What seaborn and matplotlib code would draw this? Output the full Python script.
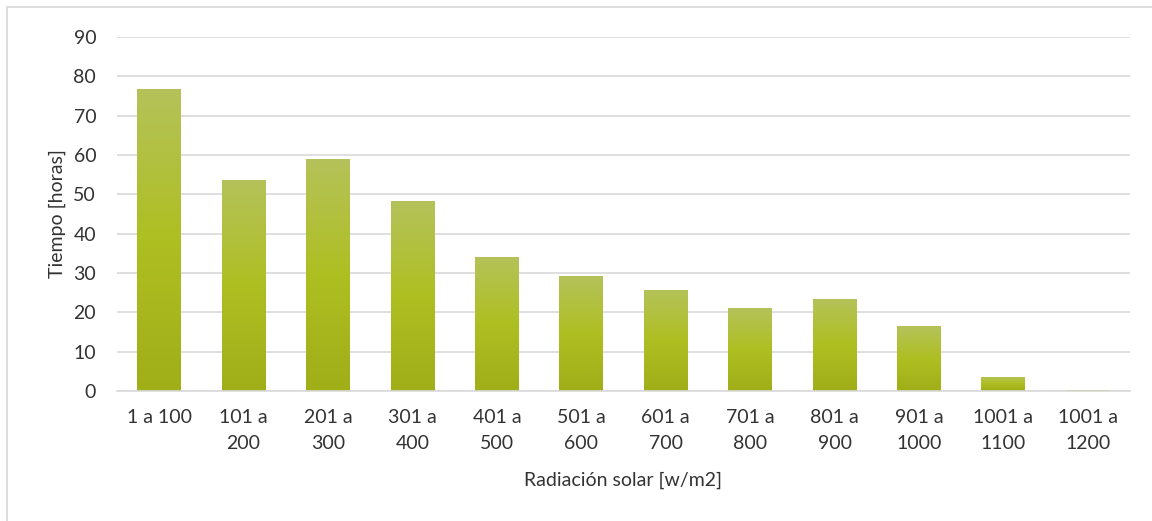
import matplotlib
matplotlib.use("Agg")
import matplotlib.pyplot as plt
import seaborn as sns
import numpy as np
import pandas as pd
from matplotlib.colors import LinearSegmentedColormap
from matplotlib.lines import Line2D

categories = ["1 a 100", "101 a\n200", "201 a\n300", "301 a\n400", "401 a\n500",
              "501 a\n600", "601 a\n700", "701 a\n800", "801 a\n900", "901 a\n1000",
              "1001 a\n1100", "1001 a\n1200"]
hours = [76.8, 53.6, 59.0, 48.3, 34.1, 29.2, 25.7, 21.1, 23.4, 16.5, 3.6, 0.3]
yticks = [0, 10, 20, 30, 40, 50, 60, 70, 80, 90]

sns.set_theme(style="white")
plt.rcParams['font.family'] = ['Lato', 'DejaVu Sans']
text_color = '#333333'
fs = 14

df = pd.DataFrame({"cat": categories, "val": hours})

fig = plt.figure(figsize=(11.52, 5.21), dpi=100)
ax = fig.add_axes([117/1152, 1 - 391/521, (1130-117)/1152, (391-37)/521])

sns.barplot(data=df, x="cat", y="val", ax=ax, color="#aebf22", width=0.52,
            saturation=1, zorder=2)

ax.set_ylim(0, 90)
ax.set_xlim(-0.5, len(categories) - 0.5)
ax.set_yticks(yticks)
ax.yaxis.grid(True, color='#d9d9d9', linewidth=1.2, zorder=0)
ax.set_axisbelow(True)
for s in ['top', 'right', 'left']:
    ax.spines[s].set_visible(False)
ax.spines['bottom'].set_color('#d9d9d9')
ax.spines['bottom'].set_linewidth(1.2)
ax.tick_params(axis='both', length=0, labelsize=fs, colors=text_color)
ax.tick_params(axis='x', pad=13)
ax.tick_params(axis='y', pad=15)
for lab in ax.get_xticklabels():
    lab.set_linespacing(1.65)
    lab.set_verticalalignment('top')

ax.set_xlabel("Radiación solar [w/m2]", fontsize=fs, color=text_color, labelpad=14)
ax.set_ylabel("Tiempo [horas]", fontsize=fs, color=text_color, labelpad=5)

# gradient fill per bar
cmap = LinearSegmentedColormap.from_list("g", [(0, "#a0ae18"), (0.5, "#aebf22"), (1, "#b5c25a")])
grad = np.linspace(0, 1, 256).reshape(-1, 1)
for p in list(ax.patches):
    x0, y0 = p.get_x(), p.get_y()
    w, h = p.get_width(), p.get_height()
    if h <= 0:
        continue
    im = ax.imshow(grad, extent=[x0, x0 + w, y0, y0 + h], origin='lower',
                   cmap=cmap, aspect='auto', zorder=2.5)
    im.set_clip_path(p)
    p.set_edgecolor('none')
ax.set_xlim(-0.5, len(categories) - 0.5)
ax.set_ylim(0, 90)

# outer chart border (top and left visible)
fig.add_artist(Line2D([7/1152, 1.0], [1 - 7/521, 1 - 7/521], transform=fig.transFigure,
                      color='#d9d9d9', linewidth=1.2))
fig.add_artist(Line2D([7/1152, 7/1152], [0, 1 - 7/521], transform=fig.transFigure,
                      color='#d9d9d9', linewidth=1.2))

fig.savefig("out.png", dpi=100)
